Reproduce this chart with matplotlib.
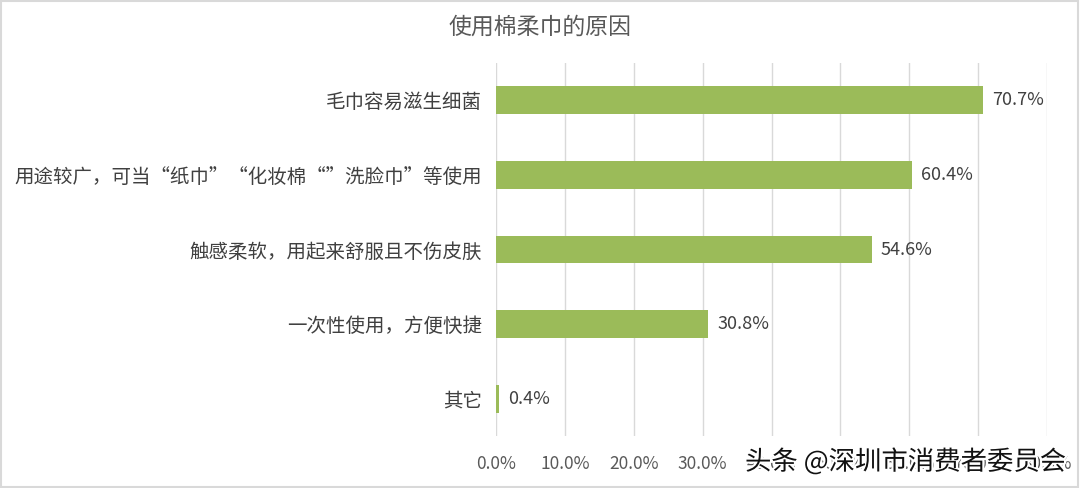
import matplotlib.pyplot as plt
import matplotlib.patheffects as pe
import numpy as np

plt.rcParams['font.family'] = ['Noto Sans CJK SC', 'DejaVu Sans']

categories = ['毛巾容易滋生细菌',
              '用途较广，可当“纸巾”“化妆棉“”洗脸巾”等使用',
              '触感柔软，用起来舒服且不伤皮肤',
              '一次性使用，方便快捷',
              '其它']
values = [70.7, 60.4, 54.6, 30.8, 0.4]
ticks = [0, 10, 20, 30, 40, 50, 60, 70, 80]

fig = plt.figure(figsize=(10.8, 4.88), dpi=100)
ax = fig.add_axes([496 / 1080, 1 - 436 / 488, (1047 - 496) / 1080, (436 - 63) / 488])

y = np.arange(len(categories))
ax.barh(y, values, height=0.37, color='#9BBB59', zorder=3)
for yi, v in zip(y, values):
    ax.text(v + 1.3, yi, '%.1f%%' % v, va='center', ha='left', fontsize=13, color='#404040')

ax.set_xlim(0, 80)
ax.set_ylim(len(categories) - 0.5, -0.5)
ax.set_yticks(y)
ax.set_yticklabels(categories, fontsize=14, color='#404040')
ax.set_xticks(ticks)
ax.set_xticklabels(['%.1f%%' % t for t in ticks], fontsize=12.5, color='#595959')
ax.tick_params(axis='both', length=0)
ax.tick_params(axis='x', pad=14)
ax.tick_params(axis='y', pad=10)
ax.grid(axis='x', color='#D9D9D9', linewidth=1, zorder=0)
for s in ax.spines.values():
    s.set_visible(False)

fig.text(0.5, 1 - 27 / 488, '使用棉柔巾的原因', ha='center', va='center', fontsize=16.5, color='#595959')

# light frame round the chart
fig.patches.append(plt.Rectangle((0.001, 0.002), 0.997, 0.995, transform=fig.transFigure,
                                 fill=False, edgecolor='#D9D9D9', linewidth=1.5))

# watermark
fig.text(1066 / 1080, 1 - 462 / 488, '头条 @深圳市消费者委员会', ha='right', va='center',
         fontsize=19, color='#111111',
         path_effects=[pe.withStroke(linewidth=3, foreground='white')])

fig.savefig('out.png', dpi=100)
